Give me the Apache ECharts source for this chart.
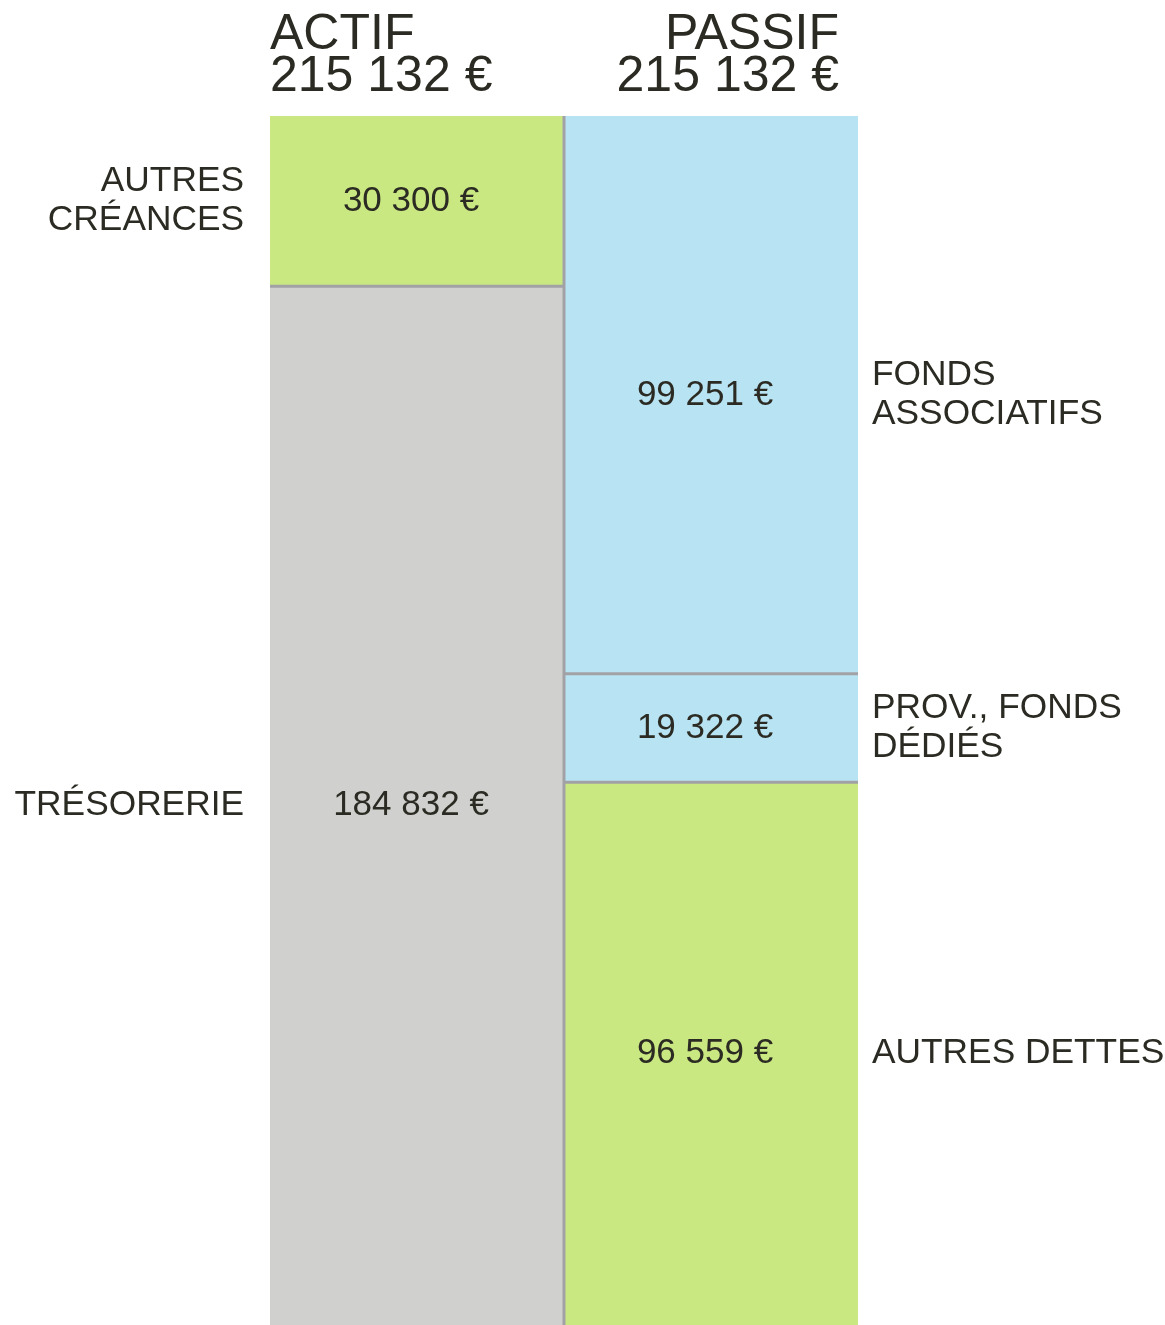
<!DOCTYPE html>
<html><head><meta charset="utf-8">
<script src="https://cdn.jsdelivr.net/npm/echarts@6/dist/echarts.min.js"></script>
<style>html,body{margin:0;padding:0;background:#fff}#c{width:1165px;height:1325px}</style>
</head><body><div id="c"></div>
<script>
const sides = ['ACTIF', 'PASSIF'];
const actifNames = ['TRÉSORERIE', 'AUTRES\nCRÉANCES'];
const actifValues = [184832, 30300];
const actifColors = ['#d0d0cf', '#c9e882'];
const passifNames = ['AUTRES DETTES', 'PROV., FONDS\nDÉDIÉS', 'FONDS\nASSOCIATIFS'];
const passifValues = [96559, 19322, 99251];
const passifColors = ['#c9e882', '#b8e3f2', '#b8e3f2'];

const FONT = '"Liberation Sans", Arial, sans-serif';
const TXT = '#2b2b23';
const SEP = '#a2a2a6';
const fmt = v => String(v).replace(/\B(?=(\d{3})+(?!\d))/g, ' ') + ' €';
const sum = a => a.reduce((s, v) => s + v, 0);
const totalA = sum(actifValues), totalP = sum(passifValues);
const maxV = Math.max(totalA, totalP);

const series = [];
function addBars(catIdx, values, colors) {
  values.forEach((v, i) => {
    const d = [null, null]; d[catIdx] = v;
    series.push({
      type: 'bar', stack: 'all', barWidth: '100%', barGap: 0, data: d,
      itemStyle: { color: colors[i] }, z: 2,
      label: { show: true, position: 'inside', offset: [-6, 0], formatter: p => fmt(p.value),
        fontFamily: FONT, fontSize: 35, color: TXT }
    });
  });
}
addBars(0, actifValues, actifColors);
addBars(1, passifValues, passifColors);

const segs = [], segNames = [];
function addSegs(catIdx, values, names) {
  let acc = 0;
  values.forEach((v, i) => { segs.push([catIdx, acc, acc + v]); segNames.push(names[i]); acc += v; });
}
addSegs(0, actifValues, actifNames);
addSegs(1, passifValues, passifNames);

series.push({
  type: 'custom', z: 5, data: segs, clip: false,
  renderItem: function (params, api) {
    const cat = api.value(0), lo = api.value(1), hi = api.value(2);
    const pLo = api.coord([cat, lo]), pHi = api.coord([cat, hi]);
    const w = api.size([1, 0])[0];
    const children = [];
    const left = cat === 0;
    children.push({
      type: 'text',
      style: {
        text: segNames[params.dataIndex],
        x: left ? pLo[0] - w / 2 - 26 : pLo[0] + w / 2 + 14,
        y: (pLo[1] + pHi[1]) / 2,
        align: left ? 'right' : 'left', verticalAlign: 'middle',
        font: '35.3px ' + FONT, fill: TXT, lineHeight: 39
      }
    });
    if (lo > 0) {
      children.push({ type: 'rect', shape: { x: pLo[0] - w / 2, y: pLo[1] - 1.5, width: w, height: 3 }, style: { fill: SEP } });
    }
    if (params.dataIndex === 0) {
      const pTop = api.coord([0, maxV]), pBot = api.coord([0, 0]);
      children.push({ type: 'rect', shape: { x: pTop[0] + w / 2 - 1.5, y: pTop[1], width: 3, height: pBot[1] - pTop[1] }, style: { fill: SEP } });
    }
    return { type: 'group', children: children };
  }
});

const chart = echarts.init(document.getElementById('c'));
chart.setOption({
  animation: false,
  grid: { left: 270, right: 307, top: 116, bottom: 0 },
  xAxis: { type: 'category', data: sides, show: false },
  yAxis: { type: 'value', min: 0, max: maxV, show: false },
  title: [
    { text: sides[0] + '\n' + fmt(totalA), left: 265, top: 9, textAlign: 'left',
      textStyle: { fontFamily: FONT, fontSize: 50, fontWeight: 'normal', color: TXT, lineHeight: 42 } },
    { text: sides[1] + '\n' + fmt(totalP), left: 834, top: 9, textAlign: 'right',
      textStyle: { fontFamily: FONT, fontSize: 50, fontWeight: 'normal', color: TXT, lineHeight: 42, align: 'right' } }
  ],
  series: series
});
</script></body></html>
